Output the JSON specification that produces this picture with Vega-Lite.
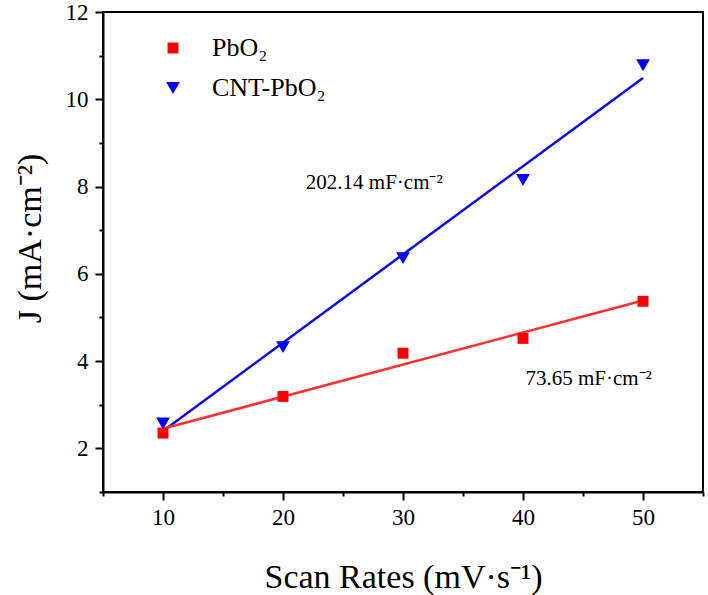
{
  "$schema": "https://vega.github.io/schema/vega-lite/v6.json",
  "width": 600,
  "height": 480,
  "autosize": {"type": "none"},
  "padding": {"left": 103, "top": 12, "right": 5, "bottom": 103},
  "background": "white",
  "config": {
    "font": "Liberation Serif",
    "view": {"stroke": "black", "strokeWidth": 2},
    "axis": {
      "domainColor": "black", "domainWidth": 2, "tickColor": "black", "tickWidth": 2,
      "labelFont": "Liberation Serif", "labelFontSize": 23, "labelColor": "black",
      "titleFont": "Liberation Serif", "titleFontSize": 34, "titleFontWeight": "normal", "titleColor": "black",
      "grid": false, "labelFlush": false, "labelOverlap": false
    },
    "legend": {
      "labelFont": "Liberation Serif", "labelFontSize": 26, "labelColor": "black"
    }
  },
  "datasets": {
    "pts": [
      {"sample": "PbO₂", "rate": 10, "J": 2.35},
      {"sample": "PbO₂", "rate": 20, "J": 3.19},
      {"sample": "PbO₂", "rate": 30, "J": 4.18},
      {"sample": "PbO₂", "rate": 40, "J": 4.52},
      {"sample": "PbO₂", "rate": 50, "J": 5.37},
      {"sample": "CNT-PbO₂", "rate": 10, "J": 2.57},
      {"sample": "CNT-PbO₂", "rate": 20, "J": 4.32},
      {"sample": "CNT-PbO₂", "rate": 30, "J": 6.36},
      {"sample": "CNT-PbO₂", "rate": 40, "J": 8.15},
      {"sample": "CNT-PbO₂", "rate": 50, "J": 10.78}
    ],
    "fit": [
      {"sample": "CNT-PbO₂", "rate": 10, "J": 2.40},
      {"sample": "CNT-PbO₂", "rate": 50, "J": 10.49},
      {"sample": "PbO₂", "rate": 10, "J": 2.45},
      {"sample": "PbO₂", "rate": 50, "J": 5.39}
    ],
    "notes": [
      {"rate": 21.9, "J": 8.08, "text": "202.14 mF·cm⁻²"},
      {"rate": 40.2, "J": 3.6, "text": "73.65 mF·cm⁻²"}
    ]
  },
  "encoding": {
    "x": {
      "field": "rate", "type": "quantitative",
      "scale": {"domain": [5, 55], "nice": false, "zero": false},
      "axis": {
        "title": "Scan Rates (mV·s⁻¹)",
        "values": [5, 10, 15, 20, 25, 30, 35, 40, 45, 50, 55],
        "labelExpr": "datum.value % 10 === 0 ? datum.label : ''",
        "tickSize": {"condition": {"test": "datum.value % 10 === 0", "value": 8}, "value": 4},
        "labelPadding": 6,
        "titleY": 95, "titleBaseline": "alphabetic"
      }
    },
    "y": {
      "field": "J", "type": "quantitative",
      "scale": {"domain": [1, 12], "nice": false, "zero": false},
      "axis": {
        "title": "J (mA·cm⁻²)",
        "values": [1, 2, 3, 4, 5, 6, 7, 8, 9, 10, 11, 12],
        "labelExpr": "datum.value % 2 === 0 ? datum.label : ''",
        "tickSize": {"condition": {"test": "datum.value % 2 === 0", "value": 8}, "value": 4},
        "labelPadding": 7,
        "titleX": -63, "titleY": 226, "titleBaseline": "alphabetic"
      }
    }
  },
  "layer": [
    {
      "data": {"name": "fit"},
      "mark": {"type": "line", "strokeWidth": 2.5},
      "encoding": {
        "detail": {"field": "sample"},
        "color": {"condition": {"test": "datum.sample === 'PbO₂'", "value": "#ff3030"}, "value": "#0a0ae6"}
      }
    },
    {
      "data": {"name": "pts"},
      "mark": {"type": "point", "filled": true, "opacity": 1, "strokeWidth": 0},
      "encoding": {
        "color": {"field": "sample", "type": "nominal", "scale": {"domain": ["PbO₂", "CNT-PbO₂"], "range": ["#ff0000", "#0000ff"]},
          "legend": {
            "title": null, "orient": "none", "legendX": 57, "legendY": 23,
            "labelOffset": 26, "rowPadding": 14, "symbolStrokeWidth": 0, "padding": 0
          }
        },
        "shape": {"field": "sample", "type": "nominal", "scale": {"domain": ["PbO₂", "CNT-PbO₂"], "range": ["square", "triangle-down"]}},
        "size": {"field": "sample", "type": "nominal", "scale": {"domain": ["PbO₂", "CNT-PbO₂"], "range": [120, 190]}}
      }
    },
    {
      "data": {"name": "notes"},
      "mark": {"type": "text", "align": "left", "baseline": "middle", "fontSize": 21, "font": "Liberation Serif", "color": "black"},
      "encoding": {"text": {"field": "text"}}
    }
  ]
}
